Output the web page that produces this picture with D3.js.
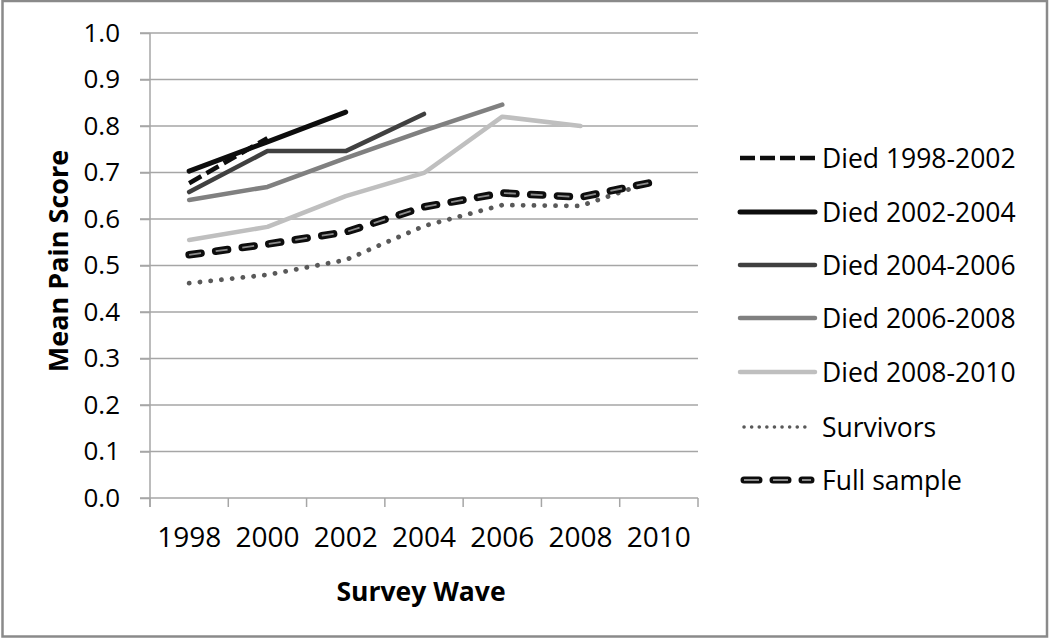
<!DOCTYPE html>
<html>
<head>
<meta charset="utf-8">
<script src="https://cdn.jsdelivr.net/npm/d3@7"></script>
<style>
  html, body { margin: 0; padding: 0; background: #fff; }
  svg { display: block; }
  text { font-family: "Open Sans", "Liberation Sans", sans-serif; fill: #000; }
</style>
</head>
<body>
<svg id="chart" width="1050" height="639"></svg>
<script>
// ---- data ----
const waves = ["1998", "2000", "2002", "2004", "2006", "2008", "2010"];
const yTicks = [0, 0.1, 0.2, 0.3, 0.4, 0.5, 0.6, 0.7, 0.8, 0.9, 1.0];
const seriesNames = ["Died 1998-2002", "Died 2002-2004", "Died 2004-2006", "Died 2006-2008", "Died 2008-2010", "Survivors", "Full sample"];
const died1998_2002 = [0.677, 0.774];
const died2002_2004 = [0.703, 0.766, 0.830];
const died2004_2006 = [0.658, 0.746, 0.746, 0.826];
const died2006_2008 = [0.641, 0.669, 0.731, 0.790, 0.846];
const died2008_2010 = [0.555, 0.583, 0.649, 0.699, 0.820, 0.800];
const survivors     = [0.462, 0.480, 0.512, 0.585, 0.630, 0.628, 0.686];
const fullSample    = [0.523, 0.546, 0.572, 0.626, 0.656, 0.647, 0.682];
const seriesValues = [died1998_2002, died2002_2004, died2004_2006, died2006_2008, died2008_2010, survivors, fullSample];

// ---- styles ----
const styles = [
  {color: "#0d0d0d", width: 4.5, dash: "14,6", cap: "butt"},
  {color: "#0d0d0d", width: 5, dash: null, cap: "round"},
  {color: "#404040", width: 4.5, dash: null, cap: "round"},
  {color: "#808080", width: 4.5, dash: null, cap: "round"},
  {color: "#bfbfbf", width: 4.5, dash: null, cap: "round"},
  {color: "#595959", width: 4.8, dash: "0.1,10.7", cap: "round"},
  {color: "#0d0d0d", width: 7.5, dash: "12,14.8", cap: "round", inner: "#8c8c8c"}
];

const svg = d3.select("#chart");
// outer frame
svg.append("rect").attr("x", 2.5).attr("y", 1).attr("width", 1044.5).attr("height", 635.5)
  .attr("fill", "#fff").attr("stroke", "#8a8a8a").attr("stroke-width", 2.5);

const x = d3.scaleBand().domain(waves).range([150, 698]).padding(0);
const y = d3.scaleLinear().domain([0, 1]).range([498, 33]);
const gridColor = "#a6a6a6";

// gridlines (with left tick extension)
svg.append("g").selectAll("line").data(yTicks.slice(1)).join("line")
  .attr("x1", 140).attr("x2", 698)
  .attr("y1", d => y(d)).attr("y2", d => y(d))
  .attr("stroke", gridColor).attr("stroke-width", 1.5);

// y axis
const yAxis = d3.axisLeft(y).tickValues(yTicks).tickFormat(d3.format(".1f")).tickSize(10).tickPadding(20);
const gy = svg.append("g").attr("transform", "translate(150,0)").call(yAxis);
gy.select(".domain").attr("stroke", gridColor).attr("stroke-width", 1.5).attr("d", "M0,33V507");
gy.selectAll(".tick line").attr("stroke", gridColor).attr("stroke-width", 1.5);
gy.selectAll(".tick text").attr("font-size", 26).attr("font-family", "Open Sans").attr("fill", "#000");

// x axis
const xAxis = d3.axisBottom(x).tickSize(0).tickPadding(29);
const gx = svg.append("g").attr("transform", "translate(0,498)").call(xAxis);
gx.select(".domain").attr("stroke", gridColor).attr("stroke-width", 1.5).attr("d", "M140,0H698");
gx.selectAll(".tick text").attr("font-size", 28).attr("font-family", "Open Sans").attr("fill", "#000");
// category boundary ticks
const bounds = waves.map(w => x(w)).concat([x(waves[waves.length - 1]) + x.bandwidth()]);
svg.append("g").selectAll("line").data(bounds).join("line")
  .attr("x1", d => d).attr("x2", d => d).attr("y1", 498).attr("y2", 507)
  .attr("stroke", gridColor).attr("stroke-width", 1.5);

// axis titles
svg.append("text").attr("transform", "translate(57,261) rotate(-90)")
  .attr("text-anchor", "middle").attr("dominant-baseline", "central")
  .attr("font-size", 27).attr("font-weight", "bold").text("Mean Pain Score");
svg.append("text").attr("x", 421).attr("y", 591)
  .attr("text-anchor", "middle").attr("dominant-baseline", "central")
  .attr("font-size", 26.5).attr("font-weight", "bold").text("Survey Wave");

// lines
const line = d3.line().x((d, i) => x(waves[i]) + x.bandwidth() / 2).y(d => y(d));
const lg = svg.append("g");
seriesValues.forEach((vals, k) => {
  const s = styles[k];
  const p = lg.append("path").attr("d", line(vals)).attr("fill", "none")
    .attr("stroke", s.color).attr("stroke-width", s.width)
    .attr("stroke-linecap", s.cap).attr("stroke-linejoin", "round");
  if (s.dash) p.attr("stroke-dasharray", s.dash);
  if (s.inner) {
    lg.append("path").attr("d", line(vals)).attr("fill", "none")
      .attr("stroke", s.inner).attr("stroke-width", 1.8)
      .attr("stroke-dasharray", s.dash).attr("stroke-linecap", "butt");
  }
});

// legend
const legendRows = [158, 212, 265, 318, 372, 427, 480];
const leg = svg.append("g");
seriesNames.forEach((name, k) => {
  const s = styles[k];
  const yy = legendRows[k];
  const rd = s.cap === "round" && s.dash;
  const p = leg.append("line").attr("x1", rd ? 744 : 740).attr("x2", rd ? 811 : 815)
    .attr("y1", yy).attr("y2", yy)
    .attr("stroke", s.color).attr("stroke-width", k === 5 ? 3.5 : s.width)
    .attr("stroke-linecap", s.cap);
  if (k === 0) p.attr("stroke-dasharray", "15,5");
  else if (k === 5) p.attr("stroke-dasharray", "0.1,7.5");
  else if (k === 6) p.attr("stroke-dasharray", "15,14").attr("stroke-width", 7);
  if (s.inner) {
    leg.append("line").attr("x1", 744).attr("x2", 811).attr("y1", yy).attr("y2", yy)
      .attr("stroke", s.inner).attr("stroke-width", 1.8).attr("stroke-dasharray", "15,14");
  }
  leg.append("text").attr("x", 822).attr("y", yy).attr("dominant-baseline", "central")
    .attr("font-size", 26.5).text(name);
});
</script>
</body>
</html>
